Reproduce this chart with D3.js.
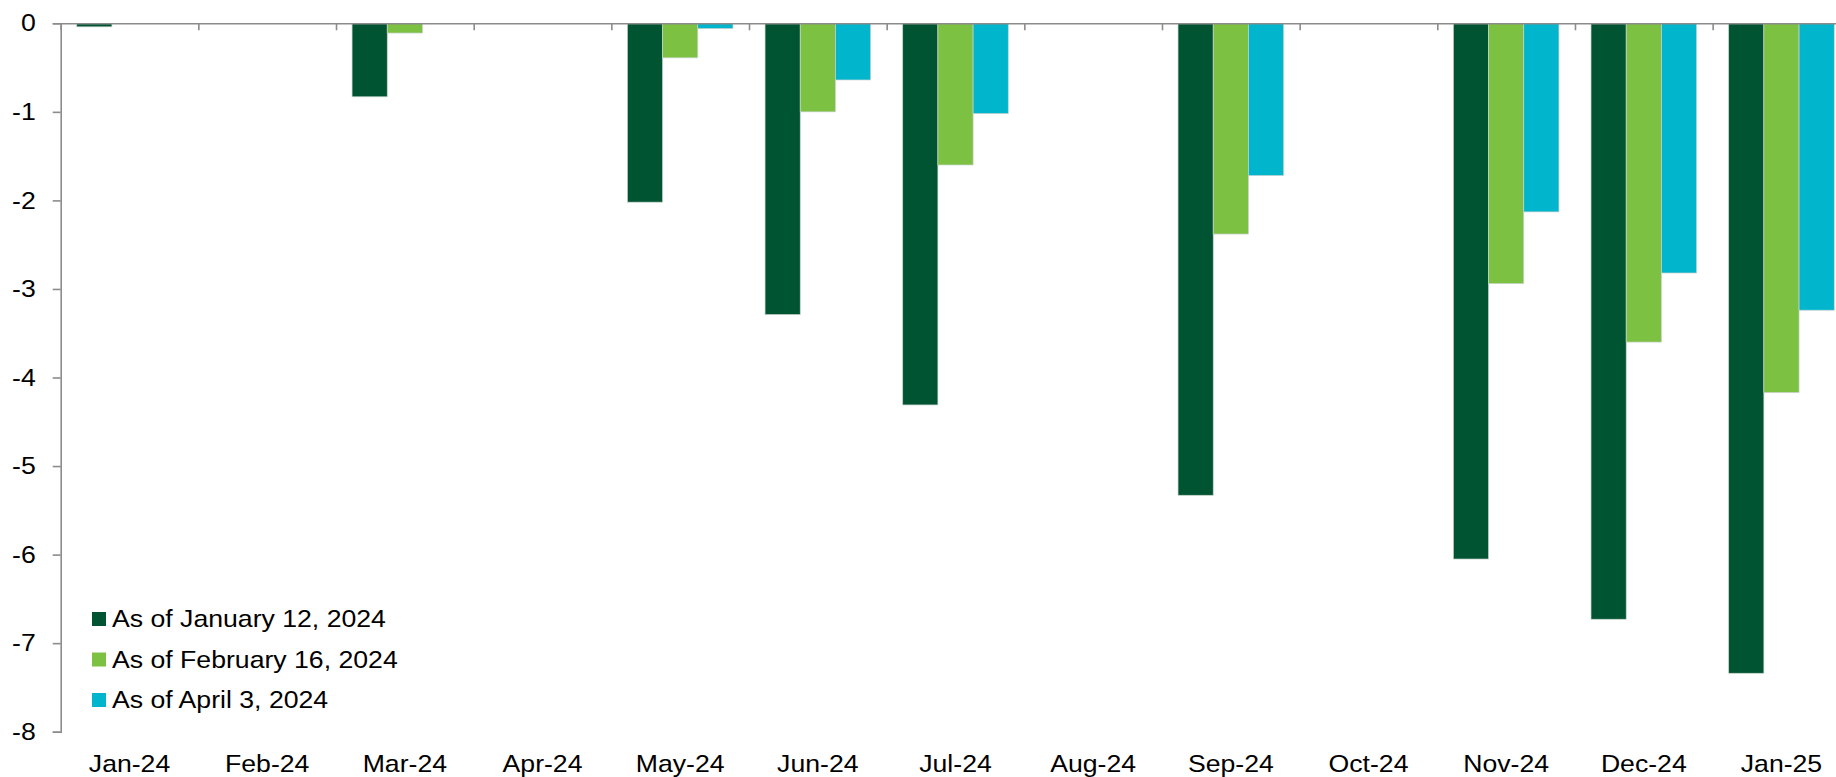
<!DOCTYPE html>
<html>
<head>
<meta charset="utf-8">
<script src="https://cdn.jsdelivr.net/npm/d3@7"></script>
<style>
  body { margin: 0; background: #fff; }
  text { font-family: "Liberation Sans", Arial, sans-serif; }
</style>
</head>
<body>
<svg id="chart"></svg>
<script>
// months on the x axis
const months = ['Jan-24', 'Feb-24', 'Mar-24', 'Apr-24', 'May-24', 'Jun-24', 'Jul-24',
  'Aug-24', 'Sep-24', 'Oct-24', 'Nov-24', 'Dec-24', 'Jan-25'];

// series labels
const seriesNames = ['As of January 12, 2024', 'As of February 16, 2024', 'As of April 3, 2024'];

// values (null = no bar)
const asOfJan12 = [-0.04, null, -0.83, null, -2.02, -3.29, -4.31, null, -5.33, null, -6.05, -6.73, -7.34];
const asOfFeb16 = [null, null, -0.11, null, -0.39, -1.00, -1.60, null, -2.38, null, -2.94, -3.60, -4.17];
const asOfApr3  = [null, null, null, null, -0.06, -0.64, -1.02, null, -1.72, null, -2.13, -2.82, -3.24];

const yTicks = [0, -1, -2, -3, -4, -5, -6, -7, -8];

const colors = ['#005432', '#7DC142', '#00B5CC'];

const width = 1836;
const height = 777;
const margin = { top: 23.3, right: -14.3, bottom: 45.3, left: 60.7 };
const stretch = 'scale(1.11,1)'; // text in the source is a little wider than Arial

const svg = d3.select('#chart')
  .attr('width', width)
  .attr('height', height);

// x scales
const x0 = d3.scaleBand()
  .domain(months)
  .range([margin.left, width - margin.right])
  .paddingInner(0.233)
  .paddingOuter(0.1165);

const x1 = d3.scaleBand()
  .domain(d3.range(seriesNames.length))
  .range([0, x0.bandwidth()]);

// month boundaries for the tick marks
const xEdge = d3.scaleLinear()
  .domain([0, months.length])
  .range([margin.left, width - margin.right]);

const y = d3.scaleLinear()
  .domain([0, -8])
  .range([margin.top, height - margin.bottom]);

const seriesData = [asOfJan12, asOfFeb16, asOfApr3];

// bars
seriesData.forEach((vals, si) => {
  svg.append('g')
    .selectAll('rect')
    .data(vals.map((v, i) => ({ m: months[i], v })).filter(d => d.v !== null))
    .enter()
    .append('rect')
    .attr('x', d => x0(d.m) + x1(si))
    .attr('y', y(0))
    .attr('width', x1.bandwidth())
    .attr('height', d => y(d.v) - y(0))
    .attr('fill', colors[si])
    .attr('stroke', '#c9d3ce')
    .attr('stroke-width', 0.7);
});

// y axis
const yAxis = svg.append('g')
  .attr('transform', `translate(${margin.left},0)`)
  .call(d3.axisLeft(y).tickValues(yTicks).tickSize(8).tickPadding(14.5).tickFormat(d => d === 0 ? '0' : '-' + Math.abs(d)));
yAxis.selectAll('path, line').attr('stroke', '#8c8c8c').attr('stroke-width', 1.6);
yAxis.selectAll('text').attr('font-size', 24).attr('fill', '#000')
  .attr('font-family', '"Liberation Sans", Arial, sans-serif')
  .attr('transform', stretch);

// x axis line at zero with ticks pointing down
const xAxis = svg.append('g')
  .attr('transform', `translate(0,${y(0)})`)
  .call(d3.axisTop(xEdge).tickValues(d3.range(months.length + 1)).tickSizeInner(-7).tickSizeOuter(0).tickFormat(''));
xAxis.selectAll('path, line').attr('stroke', '#8c8c8c').attr('stroke-width', 1.6);

// month labels at the bottom
const xLab = svg.append('g')
  .attr('transform', `translate(0,${height - 22})`)
  .call(d3.axisBottom(x0).tickSize(0).tickPadding(0));
xLab.select('.domain').remove();
xLab.selectAll('text')
  .attr('font-size', 24)
  .attr('fill', '#000')
  .attr('font-family', '"Liberation Sans", Arial, sans-serif')
  .attr('dy', '0.71em')
  .attr('transform', stretch);

// legend
const legend = svg.append('g');
seriesNames.forEach((name, i) => {
  const ly = 619 + i * 40.5;
  legend.append('rect')
    .attr('x', 92)
    .attr('y', ly - 7)
    .attr('width', 14)
    .attr('height', 14)
    .attr('fill', colors[i]);
  legend.append('text')
    .attr('transform', `translate(112,${ly + 8}) ${stretch}`)
    .attr('font-size', 24)
    .attr('fill', '#000')
    .text(name);
});
</script>
</body>
</html>
